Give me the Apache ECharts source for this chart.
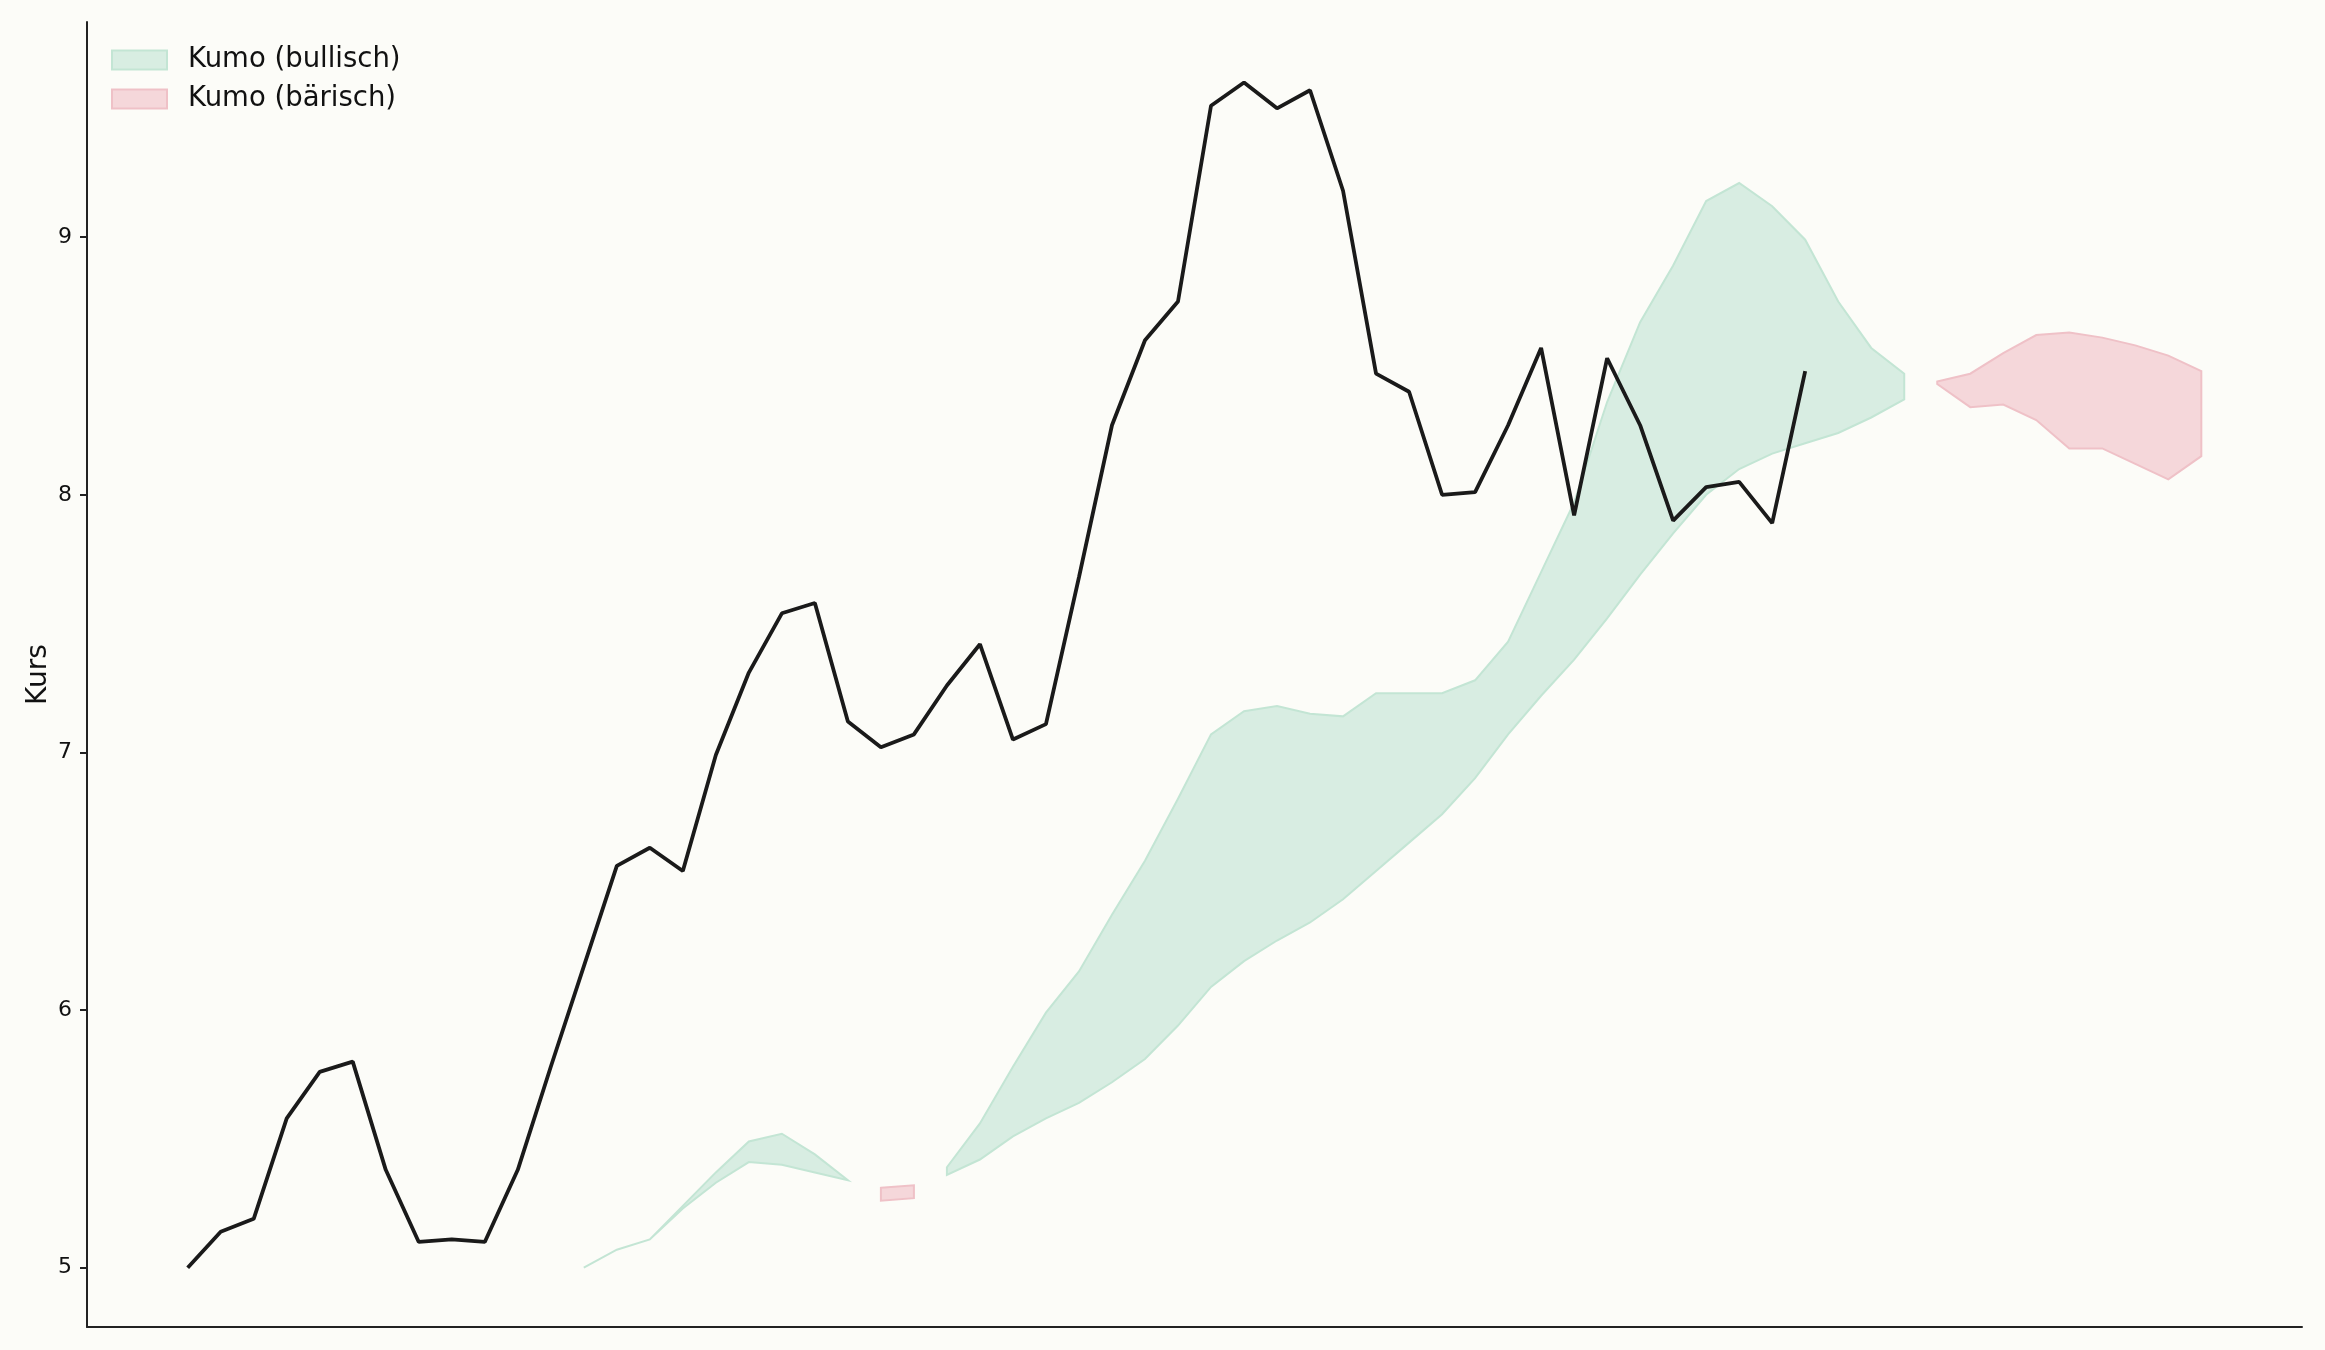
<!DOCTYPE html>
<html>
<head>
<meta charset="utf-8">
<script src="https://cdn.jsdelivr.net/npm/echarts@6/dist/echarts.min.js"></script>
<style>
html,body{margin:0;padding:0;background:#fcfcf8;}
#chart{width:2325px;height:1350px;}
</style>
</head>
<body>
<div id="chart"></div>
<script>
// Price (Kurs), index 0..49
const price = [5.00,5.14,5.19,5.58,5.76,5.80,5.38,5.10,5.11,5.10,
  5.38,5.78,6.17,6.56,6.63,6.54,6.99,7.31,7.54,7.58,
  7.12,7.02,7.07,7.26,7.42,7.05,7.11,7.68,8.27,8.60,
  8.75,9.51,9.60,9.50,9.57,9.18,8.47,8.40,8.00,8.01,
  8.27,8.57,7.92,8.53,8.27,7.90,8.03,8.05,7.89,8.48];
// Cloud spans, index 12..61
const cloudStart = 12;
const spanA = [5.00,5.07,5.11,5.24,5.37,5.49,5.52,5.44,5.34,5.26,
  5.27,5.39,5.56,5.78,5.99,6.15,6.37,6.58,6.82,7.07,
  7.16,7.18,7.15,7.14,7.23,7.23,7.23,7.28,7.43,7.70,
  7.97,8.36,8.67,8.89,9.14,9.21,9.12,8.99,8.75,8.57,
  8.47,8.43,8.34,8.35,8.29,8.18,8.18,8.12,8.06,8.15];
const spanB = [5.00,5.07,5.11,5.23,5.33,5.41,5.40,5.37,5.34,5.31,
  5.32,5.36,5.42,5.51,5.58,5.64,5.72,5.81,5.94,6.09,
  6.19,6.27,6.34,6.43,6.54,6.65,6.76,6.90,7.07,7.22,
  7.36,7.52,7.69,7.85,8.00,8.10,8.16,8.20,8.24,8.30,
  8.37,8.44,8.47,8.55,8.62,8.63,8.61,8.58,8.54,8.48];
const yTicks = [5,6,7,8,9];
const legendNames = ['Kumo (bullisch)','Kumo (bärisch)'];

const priceData = price.map((v,i)=>[i,v]);
function regions(bull){
  const out=[]; let s=-1;
  for(let k=0;k<spanA.length;k++){
    const ok = bull ? spanA[k]>=spanB[k] : spanA[k]<spanB[k];
    if(ok && s<0) s=k;
    if((!ok || k===spanA.length-1) && s>=0){ out.push([s, ok?k:k-1]); s=-1; }
  }
  return out;
}
function makeRender(fill, stroke){
  return function(params, api){
    const s = api.value(0), e = api.value(1);
    const pts=[];
    for(let k=s;k<=e;k++){ pts.push(api.coord([cloudStart+k, Math.max(spanA[k],spanB[k])])); }
    for(let k=e;k>=s;k--){ pts.push(api.coord([cloudStart+k, Math.min(spanA[k],spanB[k])])); }
    return {type:'polygon', shape:{points:pts}, style:{fill:fill, stroke:stroke, lineWidth:2}};
  };
}
const GF='#d8ede2', GS='#c3e5d4', RF='#f5d7da', RS='#efc1c7';
const chart = echarts.init(document.getElementById('chart'), null, {renderer:'canvas'});
chart.setOption({
  backgroundColor:'#fcfcf8',
  animation:false,
  textStyle:{fontFamily:'DejaVu Sans'},
  grid:{left:87,right:23,top:22,bottom:23,containLabel:false},
  legend:{
    orient:'vertical', left:111, top:46, padding:0, itemWidth:55, itemHeight:19, itemGap:11,
    selectedMode:false,
    textStyle:{fontSize:27.5, color:'#111', fontFamily:'DejaVu Sans', lineHeight:28, padding:[0,0,0,16]},
    data:[
      {name:legendNames[0], icon:'rect', itemStyle:{color:GF,borderColor:GS,borderWidth:2}},
      {name:legendNames[1], icon:'rect', itemStyle:{color:RF,borderColor:RS,borderWidth:2}}
    ]
  },
  xAxis:{type:'value', min:-3.05, max:64.05,
    axisLine:{show:true,onZero:false,lineStyle:{color:'#222',width:2}},
    axisTick:{show:false}, axisLabel:{show:false}, splitLine:{show:false}},
  yAxis:{type:'value', min:4.770, max:9.835,
    name:'Kurs', nameLocation:'middle', nameGap:34, nameRotate:90, nameMoveOverlap:false,
    nameTextStyle:{fontSize:28,color:'#111',fontFamily:'DejaVu Sans'},
    axisLine:{show:true,onZero:false,lineStyle:{color:'#222',width:2}},
    axisTick:{show:true,length:7,lineStyle:{color:'#222',width:2},customValues:yTicks},
    axisLabel:{show:true,fontSize:22,color:'#111',margin:15,customValues:yTicks,fontFamily:'DejaVu Sans'},
    splitLine:{show:false}},
  series:[
    {name:legendNames[0], type:'custom', renderItem:makeRender(GF,GS), data:regions(true),
     itemStyle:{color:GF,borderColor:GS}, z:1, silent:true},
    {name:legendNames[1], type:'custom', renderItem:makeRender(RF,RS), data:regions(false),
     itemStyle:{color:RF,borderColor:RS}, z:1, silent:true},
    {name:'Kurs', type:'line', data:priceData, showSymbol:false, symbol:'none',
     lineStyle:{color:'#1a1a1a',width:3.8}, z:5, silent:true}
  ]
});
</script>
</body>
</html>
